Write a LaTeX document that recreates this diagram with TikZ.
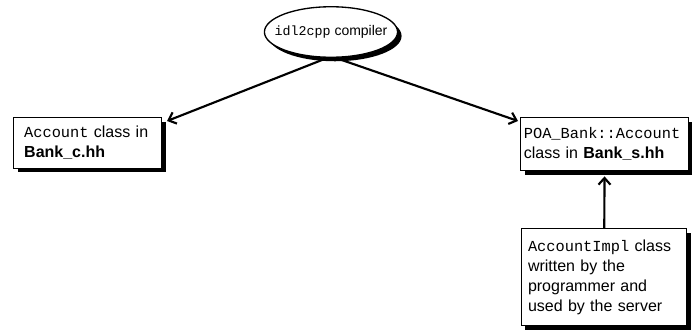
\documentclass[tikz,border=0pt]{standalone}
\usepackage{fontspec}
\setmainfont{Liberation Sans}
\setmonofont{Liberation Mono}
\usetikzlibrary{shapes.geometric,shadows,arrows.meta}

\newcommand{\codefont}{\fontsize{11.5}{15}\ttfamily}

\begin{document}
\begin{tikzpicture}[x=0.75pt,y=0.75pt,yscale=-1,xscale=1,
    boxshadow/.style={drop shadow={shadow xshift=3pt,shadow yshift=-3pt,opacity=1,fill=black}},
    classbox/.style={draw,line width=0.8pt,fill=white,align=left,
      font=\fontsize{12}{15}\selectfont,boxshadow},
    genarrow/.style={line width=1.6pt,-{Straight Barb[length=5pt,width=9pt]}}]
%set diagram left start at 0, and has height of 329
\useasboundingbox (0,0) rectangle (692,329);

    %Shape: Ellipse [id:compiler]
    \node (compiler) [ellipse,draw,line width=1pt,fill=white,
      inner xsep=-7pt,inner ysep=8.5pt,boxshadow,
      font=\fontsize{10.5}{14}\selectfont] at (331,32)
      {{\fontsize{10}{14}\ttfamily idl2cpp} compiler};

    % Text Node
    \node (stubbox) [classbox,anchor=north west,inner xsep=8pt,
      text width=95pt,minimum height=38pt] at (13,117)
      {{\codefont Account} class in\\ \textbf{Bank\_c.hh}};
    % Text Node
    \node (skelbox) [classbox,anchor=north west,inner xsep=2.5pt,
      text width=121pt,minimum height=40pt] at (520,117)
      {{\codefont POA\_Bank::Account}\\ class in \textbf{Bank\_s.hh}};
    % Text Node
    \node (implbox) [classbox,anchor=north,inner xsep=5pt,
      text width=114pt,minimum height=73pt] at (604,228)
      {{\codefont AccountImpl} class\\ written by the\\ programmer and\\ used by the server};

    %Straight Lines
    \draw [genarrow] (compiler.262) -- ([shift={(5,4)}]stubbox.north east);
    %Straight Lines
    \draw [genarrow] (compiler.280) -- ([shift={(-2,4)}]skelbox.north west);
    %Straight Lines
    \draw [genarrow] (implbox) -- ([shift={(0,5)}]skelbox.south);

\end{tikzpicture}
\end{document}
